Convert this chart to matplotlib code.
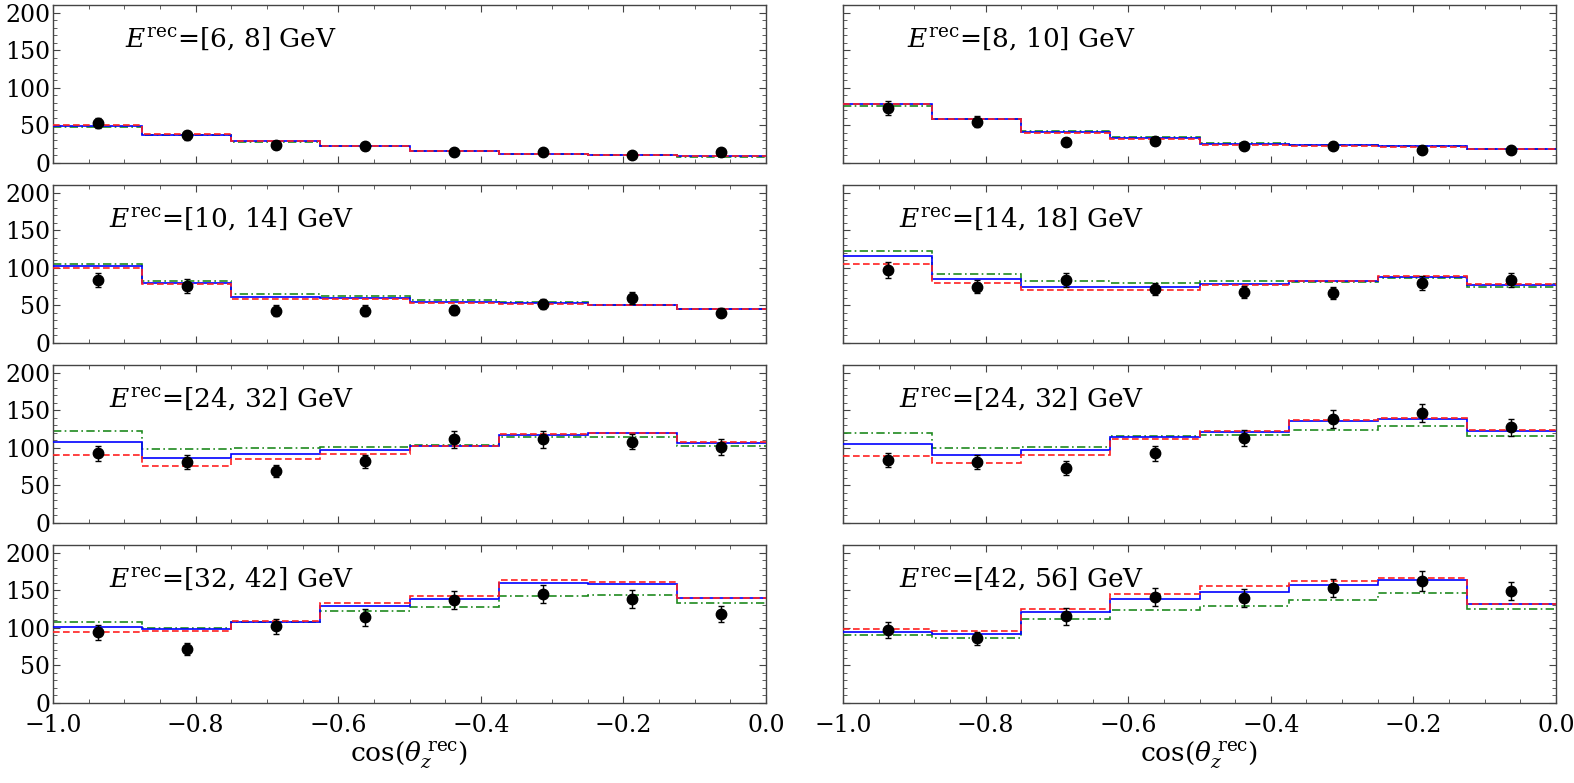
import matplotlib
matplotlib.use('Agg')
import matplotlib.pyplot as plt
import numpy as np
from matplotlib.ticker import MultipleLocator

plt.rcParams['font.family'] = 'DejaVu Serif'
plt.rcParams['mathtext.fontset'] = 'dejavuserif'

# bin edges in cos(theta_z^rec)
edges = np.linspace(-1.0, 0.0, 9)
centers = 0.5 * (edges[:-1] + edges[1:])

labels = ['[6, 8]', '[8, 10]', '[10, 14]', '[14, 18]',
          '[24, 32]', '[24, 32]', '[32, 42]', '[42, 56]']

# blue solid
blue = [
    [49, 37, 29, 23, 16, 12, 11, 9],
    [78, 59, 41, 33, 25, 24, 22, 19],
    [102, 80, 61, 60, 54, 53, 50, 45],
    [115, 85, 75, 75, 79, 82, 88, 77],
    [108, 87, 92, 97, 103, 117, 119, 106],
    [105, 90, 97, 114, 121, 135, 138, 122],
    [101, 99, 108, 129, 138, 159, 158, 140],
    [95, 92, 121, 138, 148, 157, 163, 131],
]
# red dashed
red = [
    [50, 38, 29, 23, 16, 12, 10, 9],
    [79, 59, 40, 32, 24, 23, 21, 19],
    [100, 79, 59, 58, 53, 52, 50, 45],
    [105, 80, 70, 71, 77, 82, 89, 78],
    [91, 76, 85, 92, 102, 118, 120, 107],
    [89, 80, 91, 112, 122, 137, 140, 123],
    [94, 96, 109, 133, 142, 163, 161, 140],
    [99, 96, 125, 145, 156, 162, 166, 132],
]
# green dash-dot
green = [
    [48, 37, 28, 22, 16, 12, 10, 8],
    [76, 58, 43, 35, 26, 24, 22, 19],
    [105, 83, 65, 63, 57, 54, 50, 45],
    [122, 92, 82, 80, 83, 81, 86, 75],
    [122, 98, 100, 101, 104, 114, 114, 103],
    [119, 100, 101, 115, 117, 124, 129, 116],
    [107, 100, 107, 122, 127, 142, 144, 133],
    [90, 86, 111, 123, 129, 137, 146, 125],
]
# data points and errors
data = [
    [53, 37, 24, 22, 15, 15, 10, 14],
    [73, 55, 28, 29, 23, 23, 17, 17],
    [84, 76, 43, 43, 44, 52, 60, 40],
    [97, 75, 84, 72, 68, 67, 80, 84],
    [93, 81, 69, 82, 111, 111, 108, 101],
    [84, 81, 73, 93, 113, 138, 146, 127],
    [94, 72, 102, 114, 137, 145, 138, 118],
    [97, 86, 115, 141, 139, 153, 162, 149],
]
errs = [
    [7, 6, 5, 5, 4, 4, 3, 4],
    [9, 7, 5, 5, 5, 5, 4, 4],
    [9, 9, 7, 7, 7, 7, 8, 6],
    [10, 9, 9, 8, 8, 8, 9, 9],
    [10, 9, 8, 9, 11, 11, 10, 10],
    [9, 9, 9, 10, 11, 12, 12, 11],
    [10, 8, 10, 11, 12, 12, 12, 11],
    [10, 9, 11, 12, 12, 12, 13, 12],
]

W, H = 1574, 783
fig = plt.figure(figsize=(W / 100, H / 100), dpi=100)

col_x = [53, 843]
pw = 713
row_top = [5, 185, 365, 545]
ph = 158

frame_col = '#444444'
for k in range(8):
    r, c = k // 2, k % 2
    ax = fig.add_axes([col_x[c] / W, 1 - (row_top[r] + ph) / H, pw / W, ph / H])

    ax.stairs(green[k], edges, baseline=None, color='#1f8a1f', lw=1.2,
              ls=(0, (5, 2, 1, 2)), zorder=2)
    ax.stairs(blue[k], edges, baseline=None, color='#0000ff', lw=1.2, zorder=3)
    ax.stairs(red[k], edges, baseline=None, color='#ff2020', lw=1.2,
              ls=(0, (4, 2)), zorder=4)
    ax.errorbar(centers, data[k], yerr=errs[k], fmt='o', color='black',
                ms=7.5, elinewidth=1.0, capsize=2, capthick=1.0, zorder=5)

    ax.text(0.25, 0.74, r'$E^{\rm rec}$=' + labels[k] + ' GeV', transform=ax.transAxes,
            ha='center', va='baseline', fontsize=19)

    ax.set_xlim(-1.0, 0.0)
    ax.set_ylim(0, 210)
    ax.xaxis.set_major_locator(MultipleLocator(0.2))
    ax.xaxis.set_minor_locator(MultipleLocator(0.05))
    ax.yaxis.set_major_locator(MultipleLocator(50))
    ax.yaxis.set_minor_locator(MultipleLocator(10))
    ax.tick_params(which='both', direction='in', top=True, right=True,
                   color=frame_col, labelsize=17)
    ax.tick_params(which='major', length=5, width=0.8)
    ax.tick_params(which='minor', length=3, width=0.6)
    ax.tick_params(axis='x', pad=8)
    ax.tick_params(axis='y', pad=2)
    for s in ax.spines.values():
        s.set_color(frame_col)
        s.set_linewidth(1.0)

    if c == 1:
        ax.tick_params(labelleft=False)
    if r < 3:
        ax.tick_params(labelbottom=False)
    else:
        ax.xaxis.set_major_formatter(matplotlib.ticker.FuncFormatter(
            lambda v, p: ('\u2212' if v < -1e-9 else '') + '%.1f' % abs(v)))
        ax.set_xlabel(r'cos($\theta_z^{\;\rm rec}$)', fontsize=19, labelpad=2)

fig.savefig('out.png', dpi=100)
